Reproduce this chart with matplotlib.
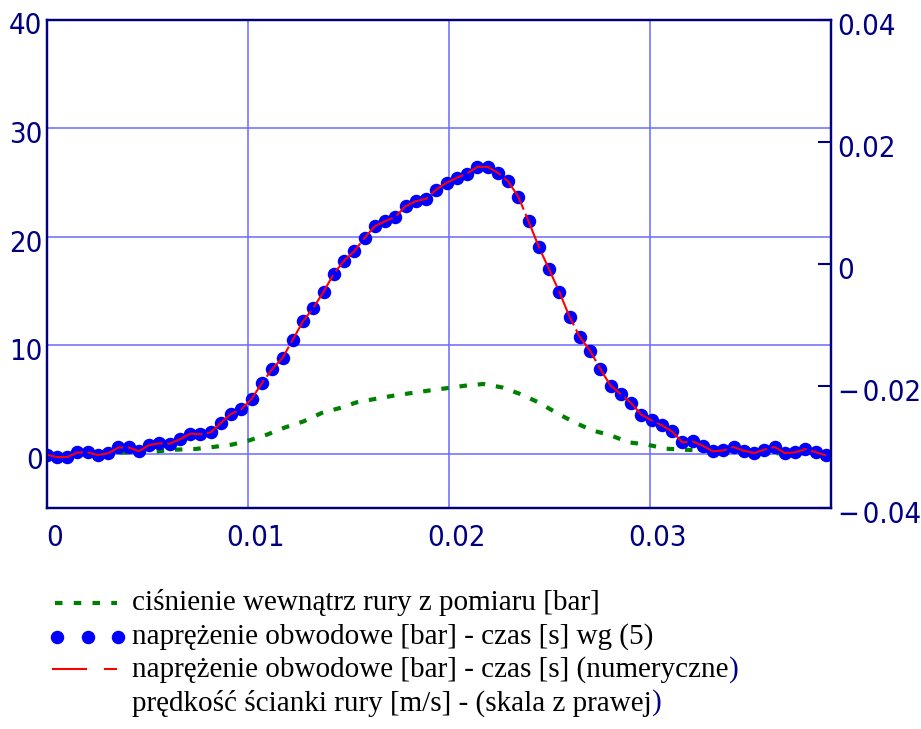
import matplotlib
matplotlib.use("Agg")
import matplotlib.pyplot as plt
import matplotlib.transforms as mtransforms
from matplotlib.lines import Line2D
from matplotlib.ticker import FuncFormatter

# czas probek [ms] - kropki / linia numeryczna
t_ms = [0.00, 0.51, 1.02, 1.53, 2.04, 2.55, 3.06, 3.57, 4.08, 4.59,
        5.10, 5.61, 6.12, 6.63, 7.14, 7.65, 8.16, 8.67, 9.18, 9.69,
        10.20, 10.71, 11.22, 11.73, 12.24, 12.75, 13.26, 13.77, 14.28, 14.79,
        15.30, 15.81, 16.32, 16.83, 17.34, 17.85, 18.36, 18.87, 19.38, 19.89,
        20.40, 20.91, 21.42, 21.93, 22.44, 22.95, 23.46, 23.97, 24.48, 24.99,
        25.50, 26.01, 26.52, 27.03, 27.54, 28.05, 28.56, 29.07, 29.58, 30.09,
        30.60, 31.11, 31.62, 32.13, 32.64, 33.15, 33.66, 34.17, 34.68, 35.19,
        35.70, 36.21, 36.72, 37.23, 37.74, 38.25, 38.76]

# naprezenie obwodowe wg (5) [bar]
stress_dots = [-0.06, -0.28, -0.28, 0.14, 0.14, -0.09, 0.07, 0.60, 0.60, 0.26,
               0.83, 0.98, 0.95, 1.36, 1.87, 1.82, 1.99, 2.87, 3.71, 4.13,
               5.10, 6.54, 7.83, 8.85, 10.53, 12.22, 13.46, 14.93, 16.60, 17.80,
               18.67, 19.90, 20.98, 21.44, 21.84, 22.82, 23.28, 23.50, 24.36, 24.98,
               25.44, 25.83, 26.45, 26.45, 25.90, 25.12, 23.69, 21.44, 19.08, 17.02,
               14.93, 12.63, 10.78, 9.52, 7.83, 6.29, 5.53, 4.70, 3.62, 3.10,
               2.64, 2.08, 1.07, 1.16, 0.76, 0.24, 0.33, 0.65, 0.30, 0.09,
               0.40, 0.65, 0.09, 0.15, 0.46, 0.18, -0.13]

# naprezenie obwodowe - numeryczne [bar]
stress_num = [-0.06, -0.28, -0.28, 0.14, 0.14, -0.09, 0.07, 0.60, 0.60, 0.26,
              0.83, 0.98, 0.95, 1.36, 1.87, 1.82, 1.99, 2.87, 3.71, 4.13,
              5.10, 6.54, 7.83, 8.85, 10.53, 12.22, 13.46, 14.93, 16.60, 17.80,
              18.67, 19.90, 20.98, 21.44, 21.84, 22.82, 23.28, 23.50, 24.36, 24.98,
              25.44, 25.83, 26.45, 26.45, 25.90, 25.12, 23.69, 21.44, 19.08, 17.02,
              14.93, 12.63, 10.78, 9.52, 7.83, 6.29, 5.53, 4.70, 3.62, 3.10,
              2.64, 2.08, 1.07, 1.16, 0.76, 0.24, 0.33, 0.65, 0.30, 0.09,
              0.40, 0.65, 0.09, 0.15, 0.46, 0.18, -0.13]

# cisnienie z pomiaru
p_ms = [0.0, 2.0, 4.0, 5.47, 6.38, 7.38, 8.29, 9.20, 10.03, 10.95,
        11.86, 12.77, 13.68, 14.59, 15.42, 16.33, 17.24, 18.16, 19.07, 19.98,
        20.81, 21.72, 22.64, 23.55, 24.46, 25.37, 26.25, 27.14, 28.06, 28.97,
        29.88, 30.80, 31.67, 32.59, 33.50, 35.00, 37.00, 38.80]
pressure = [0.0, 0.05, 0.15, 0.24, 0.40, 0.46, 0.65, 0.86, 1.23, 1.78,
            2.45, 3.00, 3.78, 4.24, 4.76, 5.07, 5.37, 5.62, 5.86, 6.08,
            6.29, 6.45, 6.14, 5.53, 4.76, 3.78, 2.91, 2.18, 1.71, 1.07,
            0.86, 0.49, 0.40, 0.33, 0.20, 0.10, 0.05, 0.05]

x_ticks = [0, 0.01, 0.02, 0.03]
y_ticks = [0, 10, 20, 30, 40]
y2_ticks = [-0.04, -0.02, 0, 0.02, 0.04]

legend_lines = [
    ("ciśnienie wewnątrz rury z pomiaru [bar]", ""),
    ("naprężenie obwodowe [bar] - czas [s] wg (5)", ""),
    ("naprężenie obwodowe [bar] - czas [s] (numeryczne", ")"),
    ("prędkość ścianki rury [m/s] - (skala z prawej", ")"),
]

NAVY = "#000080"
W, H = 921, 729
TICK_FONT = dict(family="DejaVu Sans", stretch="condensed", size=21)

fig = plt.figure(figsize=(W / 100, H / 100), dpi=100, facecolor="white")
ax = fig.add_axes([46.7 / W, 1 - 508.3 / H, (830.7 - 46.7) / W, (508.3 - 19.7) / H])
ax2 = ax.twinx()

t = [v / 1000 for v in t_ms]
tp = [v / 1000 for v in p_ms]

ax.plot(tp, pressure, color="#008000", linewidth=3, dashes=(1.8, 2.6), zorder=2)
ax.plot(t, stress_dots, "o", color="#0000ff", markersize=9.7, markeredgewidth=0, zorder=3)
ax.plot(t, stress_num, color="#ff0000", linewidth=1.5, dashes=(18, 2.2), zorder=4)

ax.set_xlim(0, 0.039)
ax.set_ylim(-5, 40)
ax.set_xticks(x_ticks)
ax.set_yticks(y_ticks)
ax.xaxis.set_major_formatter(FuncFormatter(lambda v, p: "0" if v == 0 else f"{v:g}"))
ax.grid(True, color="#6a6aff", linewidth=1.1)
ax.set_axisbelow(True)
ax.tick_params(axis="both", length=0, labelcolor=NAVY)
ax.tick_params(axis="x", pad=11)
ax.tick_params(axis="y", pad=3)

ax2.set_ylim(-0.04, 0.04)
ax2.set_yticks(y2_ticks)
ax2.yaxis.set_major_formatter(
    FuncFormatter(lambda v, p: "0" if abs(v) < 1e-12 else (f"\u2212\u200a{abs(v):g}" if v < 0 else f"{v:g}")))
ax2.tick_params(axis="y", direction="in", length=9.5, width=1.5, color=NAVY,
                labelcolor=NAVY, pad=5)

for a in (ax, ax2):
    for s in a.spines.values():
        s.set_color(NAVY)
        s.set_linewidth(1.6)

# przesuniecia etykiet jak w oryginale
dx = mtransforms.ScaledTranslation(7.5 / 100, 0, fig.dpi_scale_trans)
for lbl in ax.get_xticklabels():
    lbl.set_transform(lbl.get_transform() + dx)
    lbl.set_fontproperties(TICK_FONT)
dy = mtransforms.ScaledTranslation(0, -3.8 / 100, fig.dpi_scale_trans)
for lbl in ax.get_yticklabels() + ax2.get_yticklabels():
    lbl.set_transform(lbl.get_transform() + dy)
    lbl.set_fontproperties(TICK_FONT)


def fx(x):
    return x / W


def fy(y):
    return 1 - y / H


# legenda pod wykresem
fig.add_artist(Line2D([fx(55), fx(117)], [fy(603), fy(603)], color="#008000",
                      linewidth=3, dashes=(1.8, 2.7), transform=fig.transFigure))
fig.add_artist(Line2D([fx(57), fx(88), fx(118)], [fy(637)] * 3, linestyle="none",
                      marker="o", markersize=9.7, markeredgewidth=0, color="#0000ff",
                      transform=fig.transFigure))
fig.add_artist(Line2D([fx(53), fx(86)], [fy(669), fy(669)], color="#ff0000",
                      linewidth=1.5, transform=fig.transFigure))
fig.add_artist(Line2D([fx(105), fx(116)], [fy(669), fy(669)], color="#ff0000",
                      linewidth=1.5, transform=fig.transFigure))

renderer = fig.canvas.get_renderer()
for i, (txt, tail) in enumerate(legend_lines):
    y = [602, 637, 670, 703][i]
    tx = fig.text(fx(132), fy(y), txt, fontsize=21, family="Liberation Serif",
                  color="black", va="center", ha="left")
    if tail:
        bb = tx.get_window_extent(renderer)
        fig.text(bb.x1 / W + 0.5 / W, fy(y), tail, fontsize=21, family="Liberation Serif",
                 color=NAVY, va="center", ha="left")

fig.savefig("out.png", dpi=100, facecolor="white")
